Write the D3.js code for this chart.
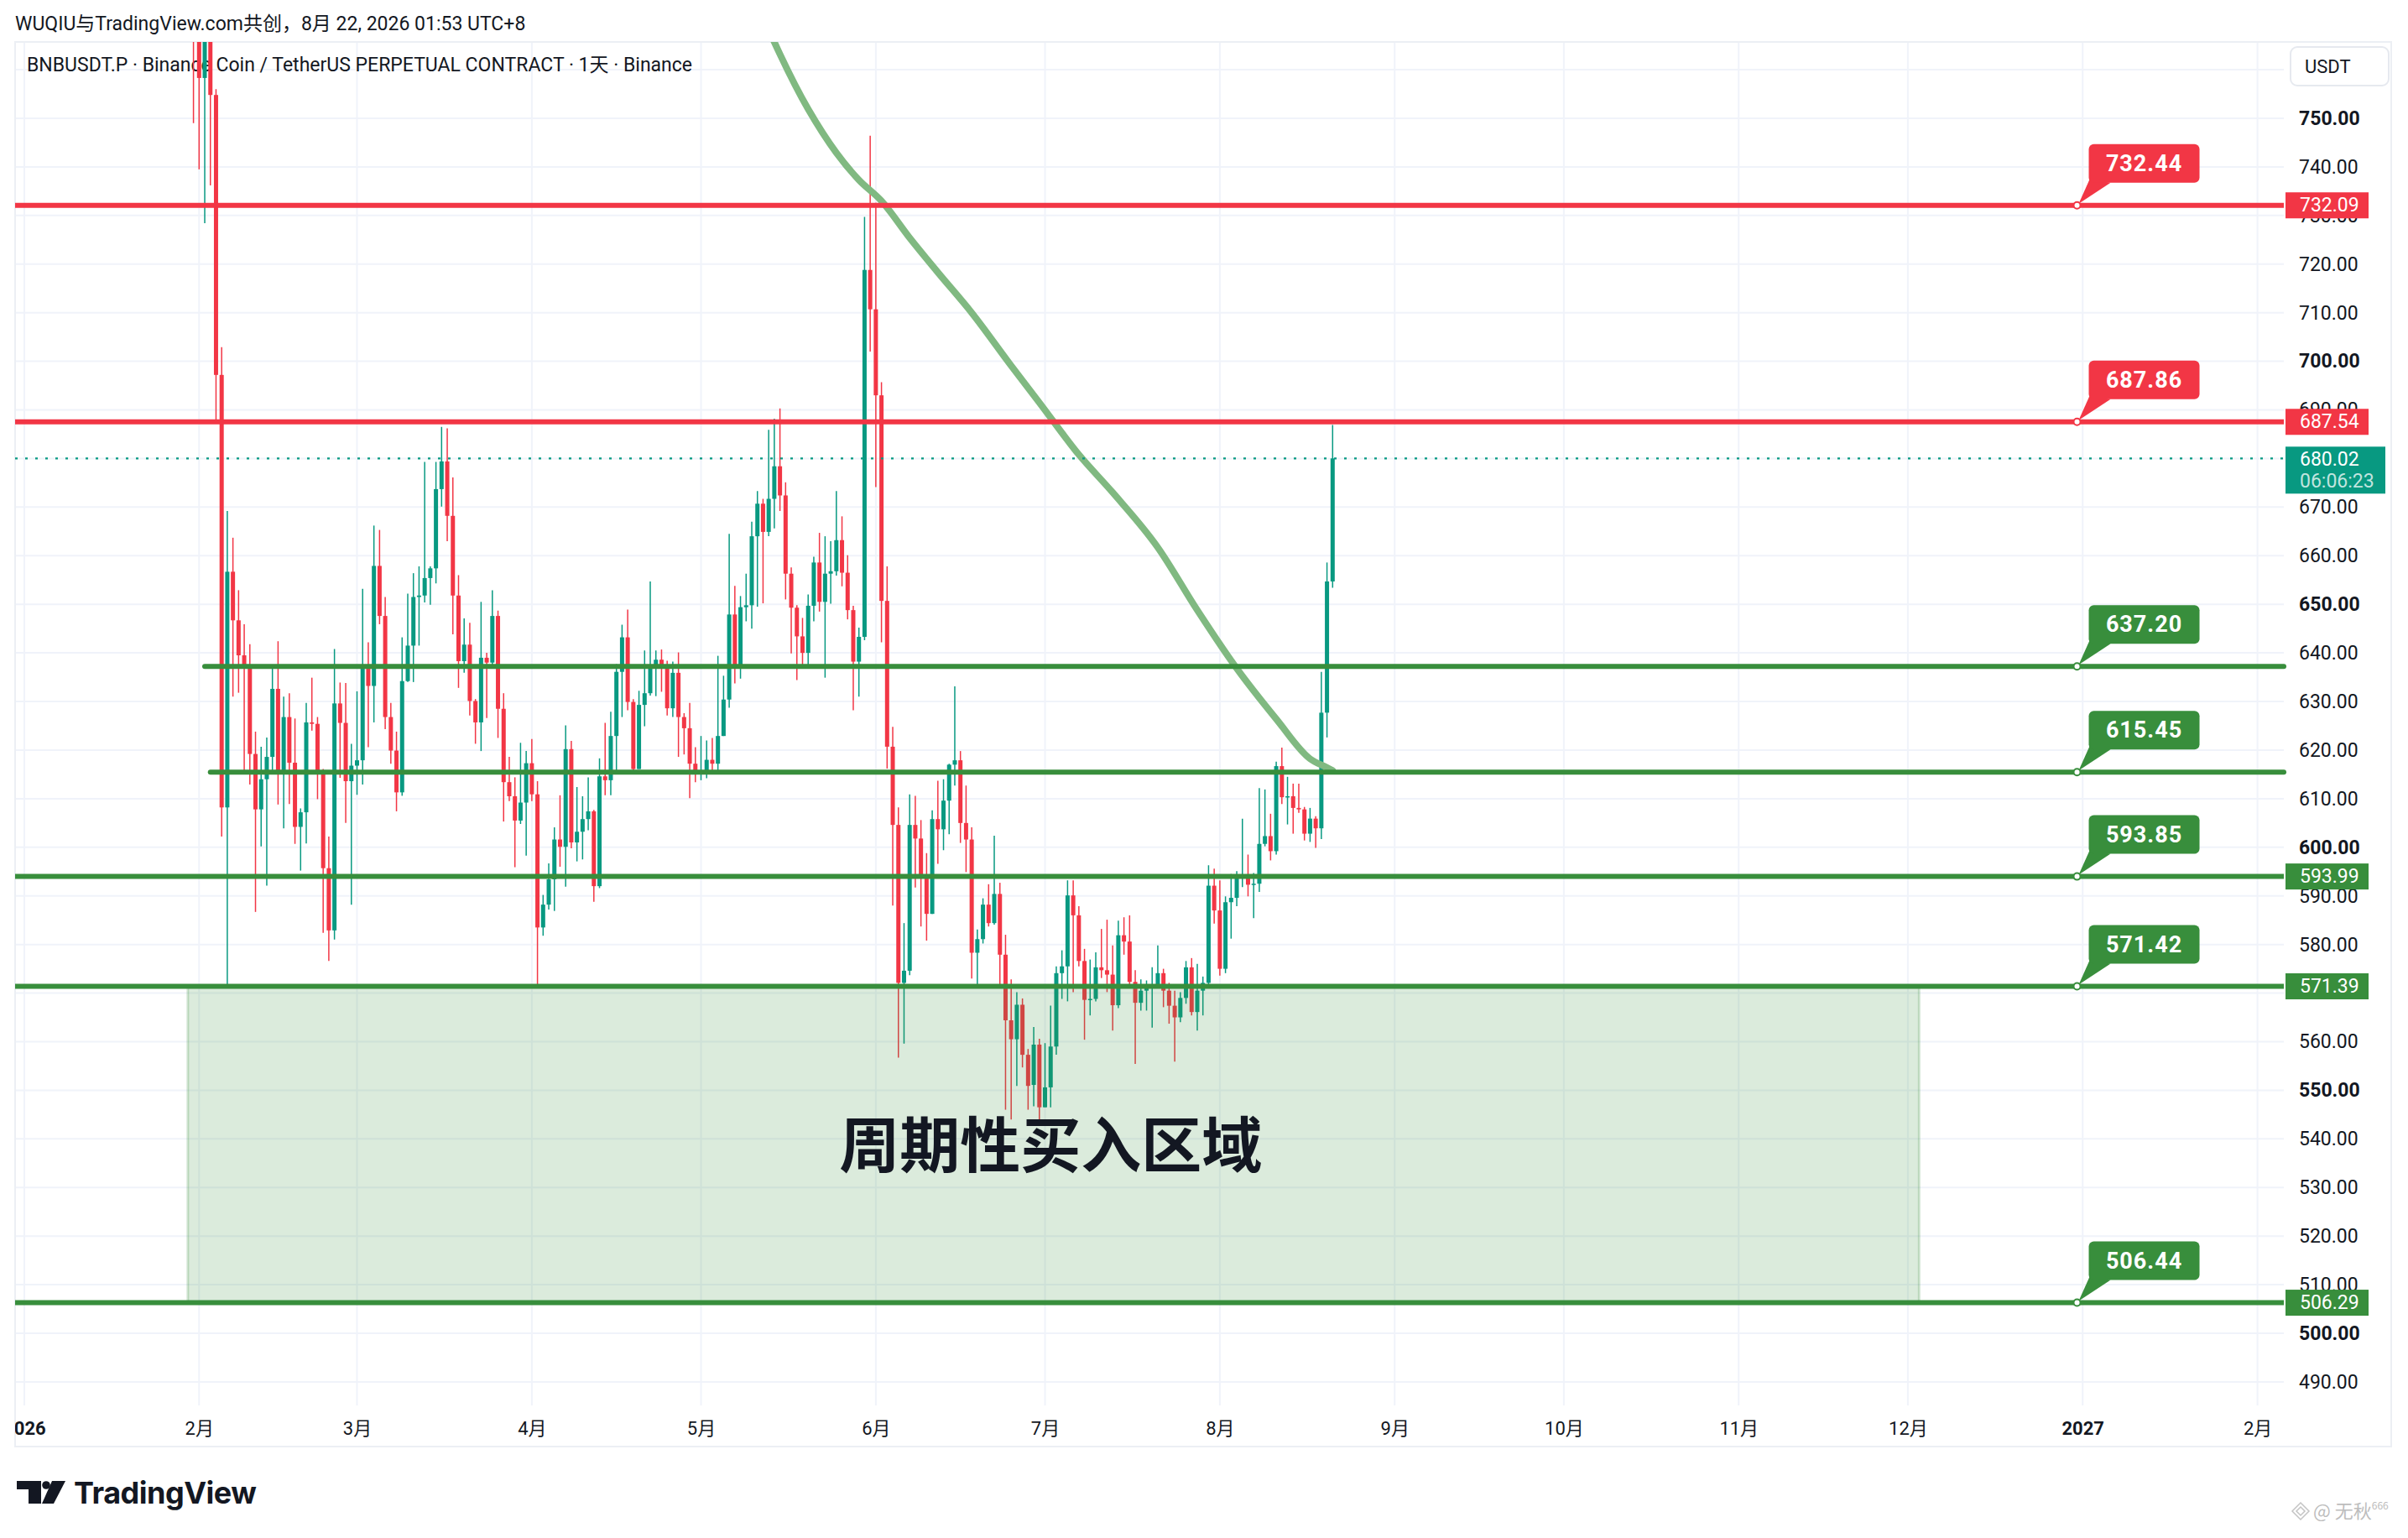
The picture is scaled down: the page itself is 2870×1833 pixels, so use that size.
<!DOCTYPE html>
<html>
<head>
<meta charset="utf-8">
<script src="https://cdn.jsdelivr.net/npm/d3@7"></script>
<style>
  html, body { margin: 0; padding: 0; background: #fff; }
  svg { display: block; }
</style>
</head>
<body>
<div id="chart"></div>
<script>
// daily candles, one row per day starting at firstDay: [open, high, low, close]
const firstDay = '2026-01-31'
const ohlcJan = [[795, 805, 749, 778]]
const ohlcFeb = [
  [778, 782, 739.5, 758.3], [758.3, 780, 728.4, 772], [772, 776, 736.2, 754.8], [754.8, 756, 687.9, 697.2],
  [697.2, 702.9, 602.2, 608.2], [608.2, 669.2, 571.7, 656.7], [656.7, 663.7, 631, 646.7], [646.7, 652.9, 631.8, 639.5],
  [639.5, 645.9, 615.7, 637.4], [637.4, 641.8, 612.9, 619.2], [619.2, 623.8, 586.7, 607.8], [607.8, 620.7, 600.2, 614],
  [614, 622.6, 592.1, 618.6], [618.6, 637.4, 615.4, 632.6], [632.6, 642.4, 608.8, 615.4], [615.4, 631, 603.9, 626.8],
  [626.8, 631.7, 608.9, 617.4], [617.4, 626.5, 600.7, 604.2], [604.2, 608, 595.2, 607.2], [607.2, 629.7, 600.8, 625.7],
  [625.7, 634.9, 624, 625.4], [625.4, 626.8, 609.9, 615.4], [615.4, 616.1, 582.4, 595.7], [595.7, 602.2, 576.6, 582.9],
  [582.9, 640.8, 581, 629.6], [629.6, 633.9, 614.3, 625.6], [625.6, 633.8, 605, 613.6], [613.6, 621.3, 588.2, 616.8]
]
const ohlcMar = [
  [616.8, 632.1, 610.8, 617.9], [617.9, 653.2, 612.9, 637.4], [637.4, 642.2, 620.6, 633.2], [633.2, 666.2, 625.7, 657.9],
  [657.9, 665.3, 645.9, 647.6], [647.6, 651.5, 624.3, 626.8], [626.8, 629.7, 617.2, 619.9], [619.9, 623.8, 607.4, 611.3],
  [611.3, 643.2, 610.6, 634.2], [634.2, 652.2, 634, 641.5], [641.5, 656.4, 634, 651.5], [651.5, 657.8, 641.5, 651.8],
  [651.8, 679.3, 650.4, 655.4], [655.4, 657.8, 649.9, 657.4], [657.4, 679.3, 654.3, 673.7], [673.7, 686.5, 670.1, 679.4],
  [679.4, 686.2, 663, 668.2], [668.2, 676.1, 643.8, 651.8], [651.8, 656, 632.8, 638.3], [638.3, 647.1, 635.9, 641.7],
  [641.7, 646.2, 627.1, 630.1], [630.1, 630.5, 621.3, 625.7], [625.7, 650.5, 619.8, 639], [639, 640, 626.6, 638],
  [638, 652.9, 637, 647.6], [647.6, 648.7, 622.5, 628.5], [628.5, 631.7, 605.3, 613.4], [613.4, 618.6, 609.5, 610.5],
  [610.5, 614.4, 595.9, 605.5], [605.5, 621.5, 604.8, 609.2], [609.2, 619.8, 598.3, 617.3]
]
const ohlcApr = [
  [617.3, 622.3, 609.5, 610.9], [610.9, 613.6, 571.5, 583.5], [583.5, 590.2, 581.8, 588.2], [588.2, 596.7, 587.2, 593.4],
  [593.4, 604.1, 586.9, 601.6], [601.6, 610.7, 596, 600.1], [600.1, 625.1, 591.9, 620.2], [620.2, 621.9, 599.8, 601],
  [601, 612.4, 597.1, 603.2], [603.2, 610.5, 597.5, 605.8], [605.8, 614.4, 603.5, 607.4], [607.4, 607.7, 588.8, 592],
  [592, 618.3, 591.6, 614.6], [614.6, 625.6, 610.7, 613.8], [613.8, 627.9, 610.7, 622.9], [622.9, 637.7, 615.3, 636.1],
  [636.1, 645.8, 626.8, 643.2], [643.2, 648.9, 628.2, 629.9], [629.9, 630.5, 615.5, 616.1], [616.1, 632.2, 616.1, 629.3],
  [629.3, 640.5, 624.9, 631.7], [631.7, 654.7, 631.2, 637.6], [637.6, 640.5, 631.1, 638.6], [638.6, 640.7, 632, 637.3],
  [637.3, 638.4, 627.1, 628.6], [628.6, 638.2, 626.8, 635.9], [635.9, 640.1, 618.6, 626.8], [626.8, 627.6, 619.1, 624.5],
  [624.5, 629.7, 610.1, 617.2], [617.2, 620.6, 613.4, 615.5]
]
const ohlcMay = [
  [615.5, 622.9, 613.8, 615.6], [615.6, 622, 614.2, 618], [618, 622.5, 615.5, 617.2], [617.2, 639.4, 615.5, 622.9],
  [622.9, 635.3, 622.9, 630.4], [630.4, 664.5, 628.7, 647.9], [647.9, 653.8, 633.7, 637.3], [637.3, 651.7, 634.7, 649.4],
  [649.4, 656.3, 646.5, 649.8], [649.8, 667, 645, 664], [664, 673.3, 649.5, 670.7], [670.7, 671.7, 650.2, 664.9],
  [664.9, 685.9, 664, 671.7], [671.7, 688.2, 665.6, 678.4], [678.4, 690.3, 669.2, 672.4], [672.4, 675.1, 651, 656.3],
  [656.3, 657.6, 639.9, 649.3], [649.3, 649.8, 634.4, 643.4], [643.4, 647.2, 637.2, 640], [640, 652, 637.6, 649.7],
  [649.7, 659.8, 646.5, 658.6], [658.6, 664.7, 648.5, 650.5], [650.5, 664, 634.9, 656.3], [656.3, 663, 650.1, 656.8],
  [656.8, 673.3, 655.9, 663.2], [663.2, 668.1, 653.7, 656.5], [656.5, 660.1, 646.9, 648.8], [648.8, 649.7, 628.2, 638.2],
  [638.2, 645.2, 631, 643.3], [643.3, 729.7, 642.6, 718.8], [718.8, 746.4, 702, 710.7]
]
const ohlcJun = [
  [710.7, 732.6, 674.1, 693], [693, 695.7, 642.2, 650.7], [650.7, 657.8, 616.2, 620.7], [620.7, 624.8, 588, 604.6],
  [604.6, 608.2, 556.7, 572.1], [572.1, 584.4, 559.6, 574.6], [574.6, 610.9, 573.7, 604.6], [604.6, 610.6, 591.7, 601.8],
  [601.8, 605.6, 583.7, 593.7], [593.7, 598.8, 580.8, 586.3], [586.3, 607.6, 586.3, 605.8], [605.8, 613.7, 596.6, 603.7],
  [603.7, 614, 599.4, 609.6], [609.6, 617.2, 602.7, 617], [617, 633.1, 612.7, 617.9], [617.9, 619.8, 600.9, 605],
  [605, 612.7, 594.9, 601.6], [601.6, 604.1, 573, 578.3], [578.3, 583.1, 571.5, 581.1], [581.1, 589.5, 580.2, 588.2],
  [588.2, 592.4, 583.7, 584.4], [584.4, 602.4, 584.1, 590.4], [590.4, 592.7, 571.5, 577.9], [577.9, 582, 546, 564.4],
  [564.4, 572.8, 544, 560.5], [560.5, 570.2, 550.9, 567.6], [567.6, 568.9, 554.7, 557.3], [557.3, 558.5, 546, 550.9],
  [551.1, 563, 546.7, 559.4], [559.4, 560.6, 543.9, 546.5]
]
const ohlcJul = [
  [546.5, 559.7, 546.5, 550.6], [550.6, 567.4, 546.5, 559], [559, 575.5, 557.3, 574.1], [574.1, 578.8, 568.8, 575.5],
  [575.5, 593.2, 568.3, 590.1], [590.1, 593.2, 570.2, 586], [586, 587.9, 575.5, 576.6], [576.6, 579.1, 560.4, 568.6],
  [568.6, 576.9, 565.4, 568.8], [568.8, 578.4, 568.3, 575.3], [575.3, 583.2, 573.1, 574.7], [574.7, 585.1, 570.2, 573.8],
  [573.8, 579.8, 562.3, 567.5], [567.5, 584.9, 566.9, 581.9], [581.9, 585.6, 577.9, 580.6], [580.6, 586, 571.7, 572.3],
  [572.3, 574.7, 555.4, 568], [568, 572.8, 566.4, 570.5], [570.5, 572.6, 566.4, 571.4], [571.4, 575.3, 562.9, 571.5],
  [571.5, 579.8, 571.5, 574.1], [574.1, 575, 567.1, 570.5], [570.5, 572.1, 563.7, 567.4], [567.4, 570.5, 555.9, 565],
  [565, 570.2, 564, 569], [569, 576.6, 567.8, 575.3], [575.3, 577.2, 565.4, 566.1], [566.1, 576, 562.3, 570.5],
  [570.5, 573.4, 565.4, 572.1], [572.1, 596.3, 571.7, 592.1], [592.1, 595.6, 584.3, 587]
]
const ohlcAug = [
  [587, 593.2, 573.6, 575], [575, 589.9, 574.1, 588.7], [588.7, 594.5, 581.2, 589.6], [589.6, 595.1, 587.9, 593.7],
  [593.7, 605.9, 591.8, 593.9], [593.9, 598.5, 589.9, 592.3], [592.3, 594.7, 585.4, 592.5], [592.5, 612.2, 590.8, 600.7],
  [600.7, 611.9, 600.2, 602.3], [602.3, 606.9, 597.3, 599.2], [599.2, 617.6, 598.5, 616.7], [616.7, 620.5, 608.9, 610.3],
  [610.3, 614.5, 604.7, 610.5], [610.5, 613.1, 602.8, 608.1], [608.1, 613.1, 607.1, 607.8], [607.8, 608.3, 601.4, 602.8],
  [602.8, 608.1, 601.1, 605.9], [605.9, 606.4, 599.9, 603.9], [603.9, 636.1, 601.7, 627.7], [627.7, 658.6, 622.6, 654.7],
  [654.7, 686.9, 653.4, 680.02]
]

// the slow moving-average curve
const maDates = ['2026-05-10', '2026-05-20', '2026-05-25', '2026-05-29', '2026-06-02', '2026-06-07', '2026-06-12',
  '2026-06-18', '2026-06-25', '2026-06-30', '2026-07-07', '2026-07-13', '2026-07-21', '2026-07-28', '2026-08-04',
  '2026-08-11', '2026-08-17', '2026-08-20', '2026-08-21']
const maValues = [776, 751.9, 742.9, 737.3, 733, 725.4, 718.3, 710, 699.1, 691.5, 680.8, 673, 661.7, 648.8, 636.8,
  626.4, 618.2, 616.4, 615.8]

// horizontal levels
const levelPrices = [732.09, 687.54, 637.2, 615.45, 593.99, 571.39, 506.29]
const levelNotes = ['732.44', '687.86', '637.20', '615.45', '593.85', '571.42', '506.44']
const levelKinds = ['resist', 'resist', 'support', 'support', 'support', 'support', 'support']
const levelStarts = [null, null, '2026-02-02', '2026-02-03', null, null, null]
const levelTagged = [true, true, false, false, true, true, true]
const noteDate = '2026-12-31'

const lastPrice = 680.02
const countdown = '06:06:23'

const zoneDates = ['2026-01-30', '2026-12-03']
const zonePrices = [571.42, 506.29]
const zoneText = '周期性买入区域'
const zoneTextDate = '2026-07-02'
const zoneTextPrice = 539.6

const priceTicks = [490, 500, 510, 520, 530, 540, 550, 560, 570, 580, 590, 600, 610, 620, 630, 640, 650, 660, 670,
  680, 690, 700, 710, 720, 730, 740, 750]
const boldTicks = [500, 550, 600, 650, 700, 750]

const title = 'WUQIU与TradingView.com共创，8月 22, 2026 01:53 UTC+8'
const symbolLine = 'BNBUSDT.P · Binance Coin / TetherUS PERPETUAL CONTRACT · 1天 · Binance'
const currency = 'USDT'
const brand = 'TradingView'
const watermark = '@ 无秋'
const watermarkSup = '666'

// ---------------------------------------------------------------
const W = 2870
const H = 1833
const L = 18
const R = 2722
const T = 50
const B = 1675
const paneR = 2850
const paneB = 1724

const UP = '#089981'
const DOWN = '#f23645'
const RED = '#f23645'
const GREEN = '#388e3c'
const INK = '#131722'
const FONT = 'Roboto, "Noto Sans", "Noto Sans CJK SC", sans-serif'
const CJK = '"Noto Sans CJK SC", "Noto Sans", sans-serif'

const parse = d3.utcParse('%Y-%m-%d')
const start = parse(firstDay)
const candles = [].concat(ohlcJan, ohlcFeb, ohlcMar, ohlcApr, ohlcMay, ohlcJun, ohlcJul, ohlcAug)
  .map((d, i) => ({ date: d3.utcDay.offset(start, i), o: d[0], h: d[1], l: d[2], c: d[3] }))

const x = d3.scaleUtc().domain([parse('2026-02-01'), parse('2026-08-21')]).range([237.3, 1588.3])
const y = d3.scaleLinear().domain([500, 750]).range([1589, 141])

const svg = d3.select('#chart').append('svg').attr('width', W).attr('height', H)
  .style('font-family', FONT)
svg.append('rect').attr('width', W).attr('height', H).attr('fill', '#fff')

const defs = svg.append('defs')
defs.append('clipPath').attr('id', 'plotClip')
  .append('rect').attr('x', L).attr('y', T).attr('width', R - L).attr('height', B - T)
defs.append('clipPath').attr('id', 'timeClip')
  .append('rect').attr('x', L).attr('y', B).attr('width', paneR - L).attr('height', paneB - B)

// header
svg.append('text').attr('x', 18).attr('y', 36).attr('font-size', 23).attr('fill', INK).text(title)

// grid
const monthTicks = d3.utcMonth.range(parse('2026-01-01'), parse('2027-02-02'))
const grid = svg.append('g').attr('clip-path', 'url(#plotClip)')
grid.selectAll('line.h').data(priceTicks.concat([760])).enter().append('line')
  .attr('x1', L).attr('x2', R).attr('y1', (d) => y(d)).attr('y2', (d) => y(d))
  .attr('stroke', '#f0f3fa').attr('stroke-width', 2)
svg.append('g').selectAll('line').data(monthTicks).enter().append('line')
  .attr('x1', (d) => x(d)).attr('x2', (d) => x(d)).attr('y1', T).attr('y2', B)
  .attr('stroke', '#f0f3fa').attr('stroke-width', 2)
  .style('display', (d) => (x(d) < L ? 'none' : null))

// pane border
svg.append('rect').attr('x', L).attr('y', T).attr('width', paneR - L).attr('height', paneB - T)
  .attr('fill', 'none').attr('stroke', '#eceff4').attr('stroke-width', 2)

svg.append('text').attr('x', 32).attr('y', 85).attr('font-size', 23).attr('fill', INK).text(symbolLine)

const plot = svg.append('g').attr('clip-path', 'url(#plotClip)')

// candles
const cw = 5
const cg = plot.append('g')
cg.selectAll('line').data(candles).enter().append('line')
  .attr('x1', (d) => x(d.date)).attr('x2', (d) => x(d.date))
  .attr('y1', (d) => y(d.h)).attr('y2', (d) => y(d.l))
  .attr('stroke', (d) => (d.c >= d.o ? UP : DOWN)).attr('stroke-width', 1.5)
cg.selectAll('rect').data(candles).enter().append('rect')
  .attr('x', (d) => x(d.date) - cw / 2).attr('width', cw)
  .attr('y', (d) => y(Math.max(d.o, d.c)))
  .attr('height', (d) => Math.max(1.5, Math.abs(y(d.o) - y(d.c))))
  .attr('fill', (d) => (d.c >= d.o ? UP : DOWN))

// moving average curve
const ma = maDates.map((d, i) => ({ date: parse(d), v: maValues[i] }))
const maLine = d3.line().x((d) => x(d.date)).y((d) => y(d.v)).curve(d3.curveMonotoneX)
plot.append('path').attr('d', maLine(ma)).attr('fill', 'none')
  .attr('stroke', '#80b981').attr('stroke-width', 8).attr('stroke-linecap', 'round')

// buy zone
const zx0 = x(parse(zoneDates[0]))
const zx1 = x(parse(zoneDates[1]))
plot.append('rect').attr('x', zx0).attr('width', zx1 - zx0)
  .attr('y', y(zonePrices[0])).attr('height', y(zonePrices[1]) - y(zonePrices[0]))
  .attr('fill', 'rgba(56,142,60,0.18)').attr('stroke', 'rgba(56,142,60,0.22)').attr('stroke-width', 3)

// last price dotted line
plot.append('line').attr('x1', L).attr('x2', R).attr('y1', y(lastPrice)).attr('y2', y(lastPrice))
  .attr('stroke', UP).attr('stroke-width', 2.2).attr('stroke-dasharray', '3 9')

// levels
const levels = levelPrices.map((p, i) => ({
  p, note: levelNotes[i], color: levelKinds[i] === 'resist' ? RED : GREEN,
  from: levelStarts[i] ? x(parse(levelStarts[i])) : L, tagged: levelTagged[i]
}))
const lg = svg.append('g')
lg.selectAll('line').data(levels).enter().append('line')
  .attr('x1', (d) => d.from).attr('x2', R).attr('y1', (d) => y(d.p)).attr('y2', (d) => y(d.p))
  .attr('stroke', (d) => d.color).attr('stroke-width', 6)
  .attr('stroke-linecap', (d) => (d.from > L ? 'round' : 'butt'))

// zone label
plot.append('text').attr('x', x(parse(zoneTextDate))).attr('y', y(zoneTextPrice))
  .attr('text-anchor', 'middle').attr('dominant-baseline', 'central')
  .attr('font-family', CJK).attr('font-weight', 700).attr('font-size', 72).attr('fill', INK)
  .text(zoneText)

// callouts
const ax = x(parse(noteDate))
const bw = 132
const bh = 46
const callouts = lg.selectAll('g.note').data(levels).enter().append('g').attr('class', 'note')
callouts.append('path')
  .attr('d', (d) => {
    const ay = y(d.p)
    const bx = ax + 14
    const by = ay - 27 - bh
    return `M${bx + 1},${by + bh - 4}L${bx + 26},${by + bh}L${ax + 2},${ay - 2}Z`
  })
  .attr('fill', (d) => d.color)
callouts.append('rect')
  .attr('x', ax + 14).attr('y', (d) => y(d.p) - 27 - bh).attr('width', bw).attr('height', bh)
  .attr('rx', 6).attr('fill', (d) => d.color)
callouts.append('text')
  .attr('x', ax + 14 + bw / 2).attr('y', (d) => y(d.p) - 27 - bh / 2)
  .attr('text-anchor', 'middle').attr('dominant-baseline', 'central')
  .attr('font-size', 27).attr('font-weight', 700).attr('fill', '#fff').attr('letter-spacing', 1)
  .text((d) => d.note)
callouts.append('circle').attr('cx', ax).attr('cy', (d) => y(d.p)).attr('r', 4)
  .attr('fill', '#fff').attr('stroke', (d) => d.color).attr('stroke-width', 2)

// price axis
const yAxis = d3.axisRight(y).tickValues(priceTicks).tickSize(0).tickPadding(0).tickFormat(d3.format('.2f'))
const ya = svg.append('g').attr('transform', 'translate(2740,0)').call(yAxis)
ya.select('.domain').remove()
ya.selectAll('text').attr('font-size', 23).attr('font-family', FONT).attr('fill', INK)
  .attr('font-weight', (d) => (boldTicks.includes(d) ? 700 : 400))

// time axis
const xAxis = d3.axisBottom(x).tickValues(monthTicks).tickSize(0).tickPadding(0)
  .tickFormat((d) => (d.getUTCMonth() === 0 ? d3.utcFormat('%Y')(d) : (d.getUTCMonth() + 1) + '月'))
const xa = svg.append('g').attr('clip-path', 'url(#timeClip)')
  .append('g').attr('transform', 'translate(0,1702)').call(xAxis)
xa.select('.domain').remove()
xa.selectAll('text').attr('y', 0).attr('dy', '0.35em').attr('font-size', 22).attr('font-family', FONT)
  .attr('fill', INK).attr('font-weight', (d) => (d.getUTCMonth() === 0 ? 700 : 400))

// axis tags
const tags = svg.append('g').selectAll('g').data(levels.filter((d) => d.tagged)).enter().append('g')
tags.append('rect').attr('x', 2724).attr('width', 99).attr('y', (d) => y(d.p) - 15.5).attr('height', 31)
  .attr('fill', (d) => d.color)
tags.append('text').attr('x', 2741).attr('y', (d) => y(d.p)).attr('dominant-baseline', 'central')
  .attr('font-size', 23).attr('fill', '#fff').text((d) => d3.format('.2f')(d.p))

const ly = y(lastPrice)
svg.append('rect').attr('x', 2724).attr('y', ly - 14).attr('width', 119).attr('height', 56).attr('fill', UP)
svg.append('text').attr('x', 2741).attr('y', ly + 1).attr('dominant-baseline', 'central')
  .attr('font-size', 23).attr('fill', '#fff').text(d3.format('.2f')(lastPrice))
svg.append('text').attr('x', 2741).attr('y', ly + 27).attr('dominant-baseline', 'central')
  .attr('font-size', 23).attr('fill', 'rgba(255,255,255,0.75)').text(countdown)

// currency box
svg.append('rect').attr('x', 2730).attr('y', 56).attr('width', 117).attr('height', 46).attr('rx', 8)
  .attr('fill', '#fff').attr('stroke', '#e6e9ef').attr('stroke-width', 2)
svg.append('text').attr('x', 2747).attr('y', 79).attr('dominant-baseline', 'central')
  .attr('font-size', 22).attr('fill', INK).text(currency)

// brand logo
const logo = svg.append('g').attr('fill', INK)
logo.append('path').attr('d', 'M20,1765H49V1792H34V1775H20Z')
logo.append('circle').attr('cx', 55).attr('cy', 1770).attr('r', 4.8)
logo.append('path').attr('d', 'M62,1765H78L64,1792H50Z')
svg.append('text').attr('x', 88).attr('y', 1792).attr('font-size', 36).attr('font-weight', 700)
  .attr('font-family', 'Inter, Roboto, sans-serif').attr('fill', INK).attr('letter-spacing', -0.5).text(brand)

// watermark
const wm = svg.append('g').attr('fill', 'none').attr('stroke', '#c4c4c4').attr('stroke-width', 1.5)
wm.append('path').attr('d', 'M2742,1791L2752,1801L2742,1811L2732,1801Z')
wm.append('path').attr('d', 'M2742,1796L2747,1801L2742,1806L2737,1801Z')
svg.append('text').attr('x', 2757).attr('y', 1809).attr('font-size', 22).attr('fill', '#bdbdbd')
  .attr('font-family', CJK).text(watermark)
  .append('tspan').attr('font-size', 12).attr('dy', -10).text(watermarkSup)
</script>
</body>
</html>
